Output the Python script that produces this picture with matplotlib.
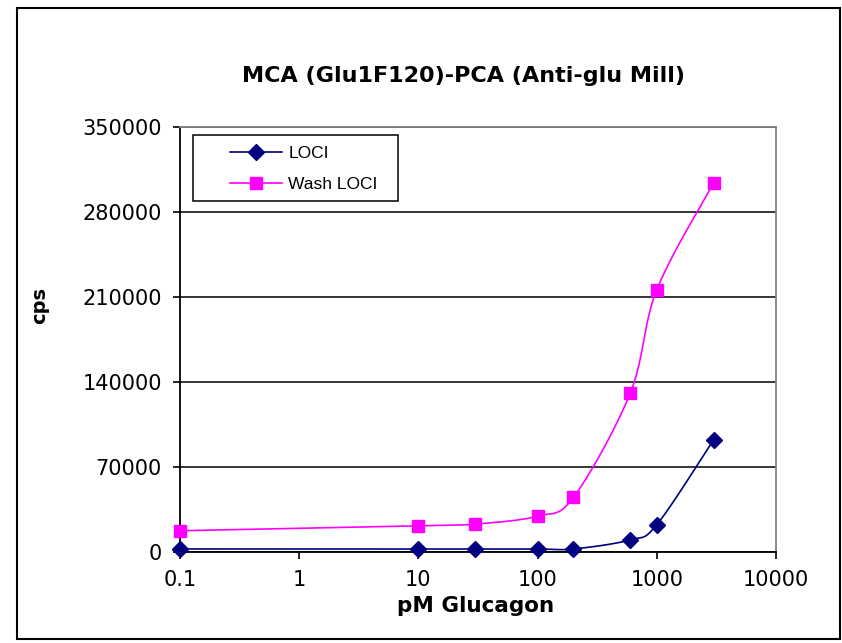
import numpy as np
import matplotlib
matplotlib.use("Agg")
import matplotlib.pyplot as plt
from matplotlib.lines import Line2D
from matplotlib.patches import Rectangle

# data
conc = [0.1, 10, 30, 100, 200, 600, 1000, 3000]
loci = [2500, 2500, 2500, 2500, 2500, 10000, 22500, 92500]
wash_loci = [17500, 21500, 23000, 29500, 45000, 131000, 216000, 304000]

y_ticks = [0, 70000, 140000, 210000, 280000, 350000]
x_ticks = [0.1, 1, 10, 100, 1000, 10000]
x_tick_labels = ['0.1', '1', '10', '100', '1000', '10000']

navy = '#000080'
pink = '#FF00FF'


def excel_smooth(x, y, n=40):
    # bezier smoothing like Excel's "smoothed line", done in log-x space
    lx = np.log10(np.asarray(x, float))
    y = np.asarray(y, float)
    pts = np.column_stack([lx, y])
    out = []
    t = np.linspace(0, 1, n)[:, None]
    for i in range(len(pts) - 1):
        p_prev = pts[max(i - 1, 0)]
        p_next = pts[min(i + 2, len(pts) - 1)]
        p0, p3 = pts[i], pts[i + 1]
        c1 = p0 + (p3 - p_prev) / 6
        c2 = p3 - (p_next - p0) / 6
        seg = ((1 - t) ** 3) * p0 + 3 * ((1 - t) ** 2) * t * c1 \
            + 3 * (1 - t) * t ** 2 * c2 + t ** 3 * p3
        out.append(seg)
    out = np.vstack(out)
    return 10 ** out[:, 0], out[:, 1]


fig = plt.figure(figsize=(8.42, 6.43), dpi=100)
ax = fig.add_axes([180 / 842, 91 / 643, 596 / 842, 425 / 643])

# outer chart border
fig.patches.append(Rectangle((17 / 842, 4 / 643), 823 / 842, 631 / 643,
                             transform=fig.transFigure, fill=False,
                             edgecolor='black', linewidth=1.5))

sx, sy = excel_smooth(conc, wash_loci)
ax.plot(sx, sy, color=pink, linewidth=1.2, zorder=3)
ax.plot(conc, wash_loci, linestyle='none', marker='s', markersize=8,
        color=pink, clip_on=False, zorder=4)

sx, sy = excel_smooth(conc, loci)
ax.plot(sx, sy, color=navy, linewidth=1.2, zorder=3)
ax.plot(conc, loci, linestyle='none', marker='D', markersize=8.5,
        color=navy, clip_on=False, zorder=4)

ax.set_xscale('log')
ax.set_xlim(0.1, 10000)
ax.set_ylim(0, 350000)
ax.set_xticks(x_ticks)
ax.set_xticklabels(x_tick_labels)
ax.minorticks_off()
ax.set_yticks(y_ticks)
ax.set_yticklabels([str(v) for v in y_ticks])
ax.tick_params(labelsize=15, length=5, width=1.2, direction='out', pad=8)

ax.set_axisbelow(True)
ax.yaxis.grid(True, color='black', linewidth=1.1)
for side in ['left', 'bottom']:
    ax.spines[side].set_color('black')
    ax.spines[side].set_linewidth(1.3)
for side in ['top', 'right']:
    ax.spines[side].set_color('#808080')
    ax.spines[side].set_linewidth(1.3)

fig.text(463 / 842, 1 - 76 / 643, 'MCA (Glu1F120)-PCA (Anti-glu Mill)',
         ha='center', va='center', fontsize=16, fontweight='bold')
fig.text(476 / 842, 1 - 606 / 643, 'pM Glucagon',
         ha='center', va='center', fontsize=15.5, fontweight='bold')
fig.text(40 / 842, 1 - 305 / 643, 'cps', rotation=90,
         ha='center', va='center', fontsize=14, fontweight='bold')

# legend with its own frame
ax.add_patch(Rectangle((13 / 596, 1 - 66 / 425 - 8 / 425), 205 / 596, 66 / 425,
                       transform=ax.transAxes, fill=False, edgecolor='black',
                       linewidth=1.1, zorder=5))
handles = [
    Line2D([], [], color=navy, linewidth=1.2, marker='D', markersize=8.5),
    Line2D([], [], color=pink, linewidth=1.2, marker='s', markersize=8),
]
ax.legend(handles, ['LOCI', 'Wash LOCI'], loc='upper left',
          bbox_to_anchor=(50 / 596, 1 - 19 / 425), frameon=False,
          borderpad=0, borderaxespad=0, handlelength=3.0, handletextpad=0.35,
          labelspacing=0.92, prop={'family': 'Liberation Sans', 'size': 12.5})

fig.savefig('out.png', dpi=100)
